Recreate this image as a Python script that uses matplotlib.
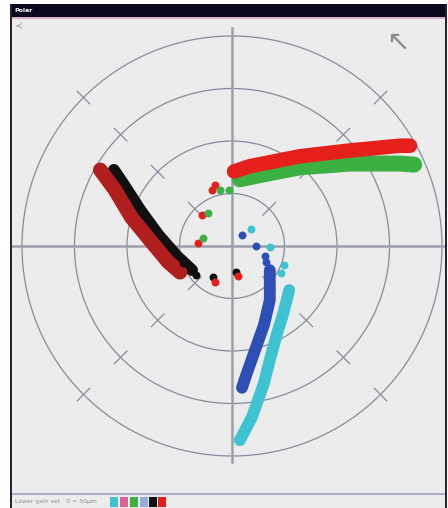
import numpy as np
import matplotlib
matplotlib.use("Agg")
from matplotlib import pyplot as plt
from matplotlib.patches import Rectangle, Circle

# band centre lines, in radius units (grid circles at r = 1, 2, 3, 4)
red_x = [0.04, 0.34, 1.30, 2.25, 3.20, 3.39]
red_y = [1.42, 1.52, 1.71, 1.82, 1.91, 1.91]
green_x = [0.15, 0.53, 1.30, 2.25, 3.20, 3.47]
green_y = [1.27, 1.35, 1.50, 1.57, 1.57, 1.55]
darkred_x = [-2.51, -2.23, -1.92, -1.56, -1.22, -0.99]
darkred_y = [1.45, 1.07, 0.55, 0.11, -0.30, -0.50]
black_x = [-2.25, -2.04, -1.75, -1.40, -1.05, -0.76]
black_y = [1.45, 1.14, 0.69, 0.21, -0.19, -0.46]
blue_x = [0.72, 0.72, 0.61, 0.44, 0.27, 0.19]
blue_y = [-0.46, -1.03, -1.50, -1.98, -2.46, -2.70]
cyan_x = [1.09, 0.97, 0.86, 0.72, 0.61, 0.38, 0.15]
cyan_y = [-0.84, -1.31, -1.66, -2.17, -2.61, -3.26, -3.70]

# loose points near the centre
red_dots_x = [-0.38, -0.32, -0.57, -0.65, 0.11, -0.32]
red_dots_y = [1.07, 1.16, 0.59, 0.06, -0.57, -0.69]
green_dots_x = [-0.23, -0.06, -0.46, -0.55]
green_dots_y = [1.07, 1.07, 0.63, 0.15]
black_dots_x = [-0.93, -0.69, -0.36, 0.08]
black_dots_y = [-0.32, -0.55, -0.59, -0.50]
blue_dots_x = [0.19, 0.46, 0.63, 0.65]
blue_dots_y = [0.21, 0.0, -0.19, -0.30]
cyan_dots_x = [0.36, 0.72, 0.99, 0.93]
cyan_dots_y = [0.32, -0.02, -0.36, -0.51]

rings = [1, 2, 3, 4]

RED = '#e5201c'
GREEN = '#3cb043'
DARKRED = '#b01e1e'
BLACK = '#101010'
BLUE = '#2d4fb5'
CYAN = '#3ec3d3'

W, H = 448, 508
fig = plt.figure(figsize=(W / 100, H / 100), dpi=100)
fig.patch.set_facecolor('white')

# window chrome, in pixel coordinates
chrome = fig.add_axes([0, 0, 1, 1])
chrome.set_xlim(0, W)
chrome.set_ylim(H, 0)
chrome.axis('off')
chrome.add_patch(Rectangle((11, 4), 436, 504, facecolor='#ebeceb', edgecolor='none'))
chrome.add_patch(Rectangle((11, 4), 436, 13, facecolor='#07071e', edgecolor='none'))
chrome.add_patch(Rectangle((11, 17), 436, 1.5, facecolor='#d9b3c4', edgecolor='none'))
chrome.add_patch(Rectangle((11, 493), 436, 2, facecolor='#a8aecb', edgecolor='none'))
chrome.add_patch(Rectangle((10, 4), 1.8, 504, facecolor='#2a2030', edgecolor='none'))
chrome.add_patch(Rectangle((445, 4), 2, 504, facecolor='#2a2030', edgecolor='none'))
chrome.text(14, 10.5, 'Polar', color='white', fontsize=4.5, fontweight='bold', va='center')
chrome.text(15, 27, '\u227a', color='#9a9a9a', fontsize=7, va='center')
chrome.text(398, 42, '\u2196', color='#8a8a8a', fontsize=20, ha='center', va='center')
chrome.text(15, 502, 'Lower gain set   0 = 50\u00b5m', color='#8a8f99', fontsize=4.4, va='center')
sq_colors = [CYAN, '#e0609a', GREEN, '#9aa8e0', BLACK, RED]
sq_x = [110, 120, 130, 140, 149, 158]
for c, x in zip(sq_colors, sq_x):
    chrome.add_patch(Rectangle((x, 497), 8, 10, facecolor=c, edgecolor='none'))

# polar plot area
cx, cy, unit = 232, 246, 52.5
left, right, top, bottom = 12, 445, 18, 493
ax = fig.add_axes([left / W, 1 - bottom / H, (right - left) / W, (bottom - top) / H])
ax.set_xlim((left - cx) / unit, (right - cx) / unit)
ax.set_ylim((cy - bottom) / unit, (cy - top) / unit)
ax.patch.set_alpha(0)
ax.axis('off')

grid_col = '#878c9b'
for r in rings:
    ax.add_patch(Circle((0, 0), r, fill=False, edgecolor=grid_col, linewidth=0.9))
    for a in [45, 135, 225, 315]:
        t = np.deg2rad(a)
        ax.plot([(r - 0.17) * np.cos(t), (r + 0.17) * np.cos(t)],
                [(r - 0.17) * np.sin(t), (r + 0.17) * np.sin(t)],
                color=grid_col, linewidth=0.9)
ax.plot([-4.3, 4.3], [0, 0], color='#9ca0aa', linewidth=1.8)
ax.plot([0, 0], [-4.12, 4.15], color='#9ca0aa', linewidth=1.8)

kw = dict(solid_capstyle='round', solid_joinstyle='round')
ax.plot(green_x, green_y, color=GREEN, linewidth=11.5, **kw)
ax.plot(red_x, red_y, color=RED, linewidth=10.5, **kw)
ax.plot(black_x, black_y, color=BLACK, linewidth=8.5, **kw)
ax.plot(darkred_x, darkred_y, color=DARKRED, linewidth=10.5, **kw)
ax.plot(blue_x, blue_y, color=BLUE, linewidth=8.5, **kw)
ax.plot(cyan_x, cyan_y, color=CYAN, linewidth=8.5, **kw)

ax.scatter(black_dots_x, black_dots_y, s=22, color=BLACK, zorder=3)
ax.scatter(red_dots_x, red_dots_y, s=22, color=RED, zorder=3)
ax.scatter(green_dots_x, green_dots_y, s=22, color=GREEN, zorder=3)
ax.scatter(blue_dots_x, blue_dots_y, s=22, color=BLUE, zorder=3)
ax.scatter(cyan_dots_x, cyan_dots_y, s=22, color=CYAN, zorder=3)

fig.savefig('out.png', dpi=100)
